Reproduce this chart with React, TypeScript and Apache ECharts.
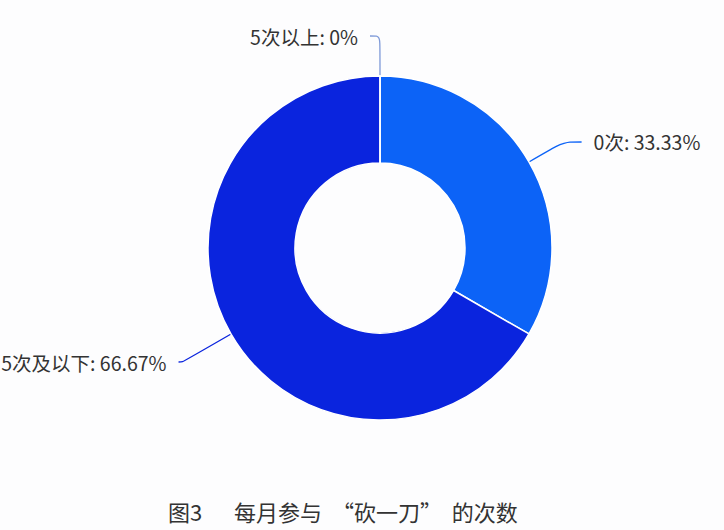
import { useEffect, useRef } from 'react'
import * as echarts from 'echarts'

const categories = ['0次', '5次及以下', '5次以上']
const values = [33.33, 66.67, 0]
const colors = ['#0c63f7', '#0a24de', '#7f9ad8']
// per-slice label line lengths [radial, horizontal]
const lineLengths = [
  [40, 18],
  [56, 4],
  [40, 10],
]
const caption = '图3　  每月参与  “砍一刀”  的次数'

export default function App() {
  const chartRef = useRef<HTMLDivElement>(null)

  useEffect(() => {
    if (!chartRef.current) return
    const chart = echarts.init(chartRef.current, undefined, { renderer: 'svg' })

    const option: echarts.EChartsOption = {
      animation: false,
      backgroundColor: '#fdfdfe',
      title: {
        text: caption,
        left: 168,
        top: 500,
        padding: 0,
        textStyle: {
          fontFamily: 'Noto Sans CJK SC',
          fontSize: 22,
          fontWeight: 'normal',
          color: '#333',
        },
      },
      series: [
        {
          type: 'pie',
          center: [380, 248],
          radius: [85, 172],
          startAngle: 90,
          clockwise: true,
          avoidLabelOverlap: false,
          itemStyle: {
            borderColor: '#ffffff',
            borderWidth: 1.5,
          },
          label: {
            show: true,
            formatter: '{b}: {d}%',
            fontFamily: 'Noto Sans CJK SC',
            fontSize: 19.5,
            color: '#333',
            distanceToLabelLine: 12,
          },
          labelLine: {
            show: true,
            smooth: true,
            lineStyle: { width: 1.3 },
          },
          data: categories.map((name, i) => ({
            name,
            value: values[i],
            itemStyle: { color: colors[i] },
            labelLine: { length: lineLengths[i][0], length2: lineLengths[i][1] },
          })),
        },
      ],
    }

    chart.setOption(option)
    return () => {
      chart.dispose()
    }
  }, [])

  return (
    <div
      ref={chartRef}
      style={{ position: 'fixed', left: 0, top: 0, width: '724px', height: '530px' }}
    />
  )
}
